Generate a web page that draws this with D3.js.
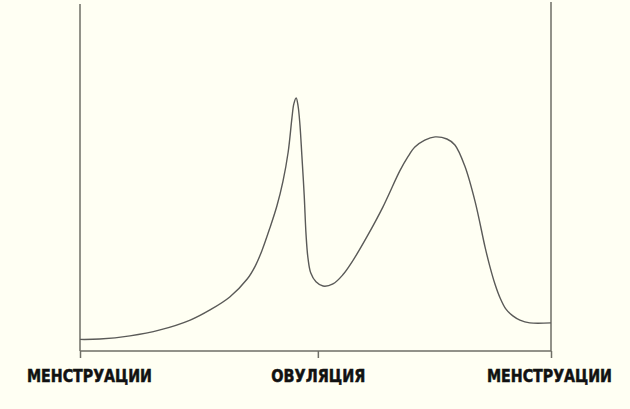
<!DOCTYPE html>
<html>
<head>
<meta charset="utf-8">
<script src="https://cdn.jsdelivr.net/npm/d3@7"></script>
<style>
  html, body { margin: 0; padding: 0; background: #fffff3; }
  svg { display: block; }
</style>
</head>
<body>
<svg id="chart" width="630" height="409"></svg>
<script>
// Position in the cycle (% of cycle length)
const cyclePos = [0, 4.2, 10.6, 17.0, 23.4, 27.6, 31.8, 35.5, 37.2, 38.6, 40.3, 41.8, 43.1, 44.2, 45.0, 45.4, 45.9, 46.3, 46.7, 47.1, 47.6, 48.0, 48.4, 49.0, 50.1, 51.6, 53.7, 55.8, 58.0, 60.9, 64.3, 67.9, 69.6, 71.1, 73.2, 75.4, 77.9, 79.6, 81.7, 83.9, 86.0, 87.0, 88.1, 89.2, 90.4, 91.9, 93.4, 95.5, 100];
// Hormone level (arbitrary units)
const level = [3.3, 3.4, 4.3, 6.0, 8.8, 11.7, 15.4, 20.5, 24.2, 28.5, 35.0, 41.3, 48.4, 56.7, 66.4, 70.4, 72.1, 69.8, 64.4, 55.8, 44.4, 33.0, 26.5, 22.2, 19.7, 18.5, 19.1, 21.7, 25.9, 32.5, 41.0, 51.3, 55.3, 58.1, 60.1, 61.0, 60.4, 58.7, 52.7, 42.5, 29.6, 24.2, 19.1, 15.1, 12.0, 10.0, 8.8, 8.0, 8.0];
// Axis ticks and their labels
const tickValues = [0, 50.5, 100];
const tickLabels = ["МЕНСТРУАЦИИ", "ОВУЛЯЦИЯ", "МЕНСТРУАЦИИ"];
const labelShift = [9, 0, -2];
const labelWidth = [125, 94, 125];

const svg = d3.select("#chart");
const x = d3.scaleLinear().domain([0, 100]).range([80, 551]);
const y = d3.scaleLinear().domain([0, 100]).range([351, 0]);

const axisColor = "#6e6e66";

// bottom axis
const xAxis = d3.axisBottom(x).tickValues(tickValues).tickSize(7).tickFormat((d, i) => tickLabels[i]);
const gx = svg.append("g").attr("transform", `translate(0,${y(0)})`).call(xAxis);
gx.select(".domain").attr("stroke", axisColor).attr("stroke-width", 1.5).attr("d", `M${x(0)},0H${x(100)}`);
gx.selectAll(".tick line").attr("stroke", axisColor).attr("stroke-width", 1.5);
gx.selectAll(".tick text")
  .attr("y", 30.7)
  .attr("dy", 0)
  .attr("x", (d, i) => labelShift[i])
  .attr("textLength", (d, i) => labelWidth[i])
  .attr("lengthAdjust", "spacingAndGlyphs")
  .attr("fill", "#111")
  .attr("stroke", "#111")
  .attr("stroke-width", 0.5)
  .style("font-family", "'DejaVu Sans Condensed', 'DejaVu Sans', sans-serif")
  .style("font-weight", "bold")
  .style("font-size", "17.5px")
  .attr("text-anchor", "middle");

// left & right vertical axes
const gl = svg.append("g").attr("transform", `translate(${x(0)},0)`).call(d3.axisLeft(y).tickValues([]).tickSizeOuter(0));
gl.select(".domain").attr("stroke", axisColor).attr("stroke-width", 1.5).attr("d", `M0,${y(0)}V4`);
const gr = svg.append("g").attr("transform", `translate(${x(100)},0)`).call(d3.axisRight(y).tickValues([]).tickSizeOuter(0));
gr.select(".domain").attr("stroke", axisColor).attr("stroke-width", 1.5).attr("d", `M0,${y(0)}V2`);

// curve
const pts = cyclePos.map((c, i) => [c, level[i]]);
const line = d3.line().x(d => x(d[0])).y(d => y(d[1])).curve(d3.curveCatmullRom.alpha(0.5));
svg.append("path").datum(pts)
  .attr("d", line)
  .attr("fill", "none")
  .attr("stroke", "#5a5a58")
  .attr("stroke-width", 1.4);
</script>
</body>
</html>
